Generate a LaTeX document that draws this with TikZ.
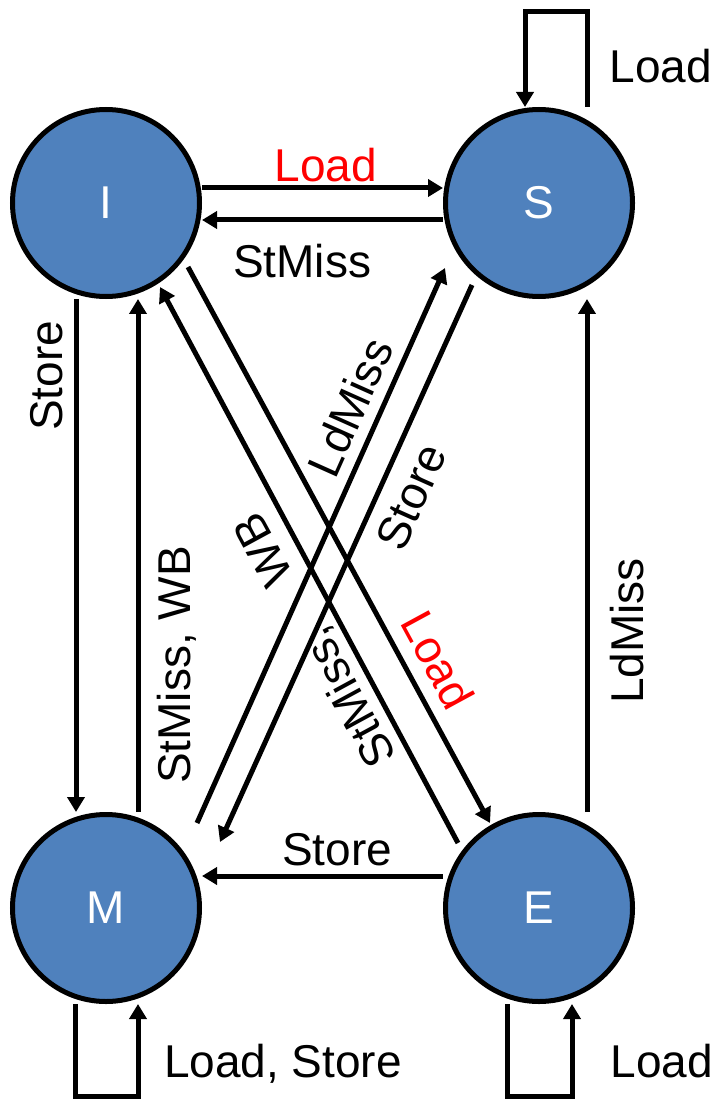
\documentclass[tikz,border=0pt]{standalone}
\usepackage{fontspec}
\setmainfont{Liberation Sans}
\usetikzlibrary{arrows.meta,calc}
\definecolor{stateblue}{HTML}{4F81BD}
\begin{document}
\begin{tikzpicture}[x=0.5pt,y=-0.5pt,
  state/.style={circle,draw=black,line width=2.5pt,fill=stateblue,
    minimum size=93.5pt,inner sep=0pt,text=white,
    font=\fontsize{23}{27}\selectfont},
  conn/.style={line width=2.5pt,-{Triangle[length=7.5pt,width=8.5pt]}},
  lbl/.style={font=\fontsize{23}{27}\selectfont,inner sep=0pt},
  hot/.style={lbl,text=red}]
\useasboundingbox (0,0) rectangle (715,1101);

% states
\node[state] (I) at (106,203) {I};
\node[state] (S) at (539,203) {S};
\node[state] (M) at (106,908) {M};
\node[state] (E) at (539,908) {E};

% horizontal transitions
\draw[conn] ($(I.east)+(0,-15)$) -- ($(S.west)+(0,-15)$);
\draw[conn] ($(S.west)+(0,17)$) -- ($(I.east)+(0,17)$);
\draw[conn] ($(E.west)+(0,-32)$) -- ($(M.east)+(0,-32)$);

% vertical transitions
\draw[conn] ($(I.south)+(-30,0)$) -- ($(M.north)+(-30,0)$);
\draw[conn] ($(M.north)+(32,0)$) -- ($(I.south)+(32,0)$);
\draw[conn] ($(E.north)+(48,0)$) -- ($(S.south)+(48,0)$);

% diagonal transitions
\draw[conn] ($(I)+(82,64)$) -- ($(E)+(-49,-85)$);
\draw[conn] ($(E)+(-81,-65)$) -- ($(I)+(54,84)$);
\draw[conn] ($(M)+(91,-85)$) -- ($(S)+(-94,65)$);
\draw[conn] ($(S)+(-67,82)$) -- ($(M)+(114,-66)$);

% self loops
\draw[conn] ($(S.north)+(48,0)$) |- ($(S.north)+(-14,-95)$) -- ($(S.north)+(-14,0)$);
\draw[conn] ($(M.south)+(-31,0)$) |- ($(M.south)+(32,92)$) -- ($(M.south)+(32,0)$);
\draw[conn] ($(E.south)+(-32,0)$) |- ($(E.south)+(33,92)$) -- ($(E.south)+(33,0)$);

% labels
\node[hot,anchor=base] (tIS) at (326,182) {Load};
\node[lbl,anchor=base] (tSI) at (302,278) {StMiss};
\node[lbl,anchor=base] (tSS) at (661,83) {Load};
\node[lbl,anchor=base,rotate=90] (tIM) at (62,376) {Store};
\node[lbl,anchor=base,rotate=90] (tMI) at (190,665) {StMiss, WB};
\node[lbl,anchor=base,rotate=90] (tES) at (643,631) {LdMiss};
\node[lbl,anchor=base] (tEM) at (337,865) {Store};
\node[lbl,anchor=base] (tMM) at (283,1077) {Load, Store};
\node[lbl,anchor=base] (tEE) at (662,1077) {Load};
\node[lbl,rotate=65.9] (tMS) at (350,407) {LdMiss};
\node[lbl,rotate=65.9] (tSM) at (411,497) {Store};
\node[hot,rotate=-61.5] (tIE) at (438,660) {Load};
\node[lbl,rotate=118.5] (tEIa) at (349,697) {StMiss,};
\node[lbl,rotate=118.5] (tEIb) at (263,550) {WB};
\end{tikzpicture}
\end{document}
